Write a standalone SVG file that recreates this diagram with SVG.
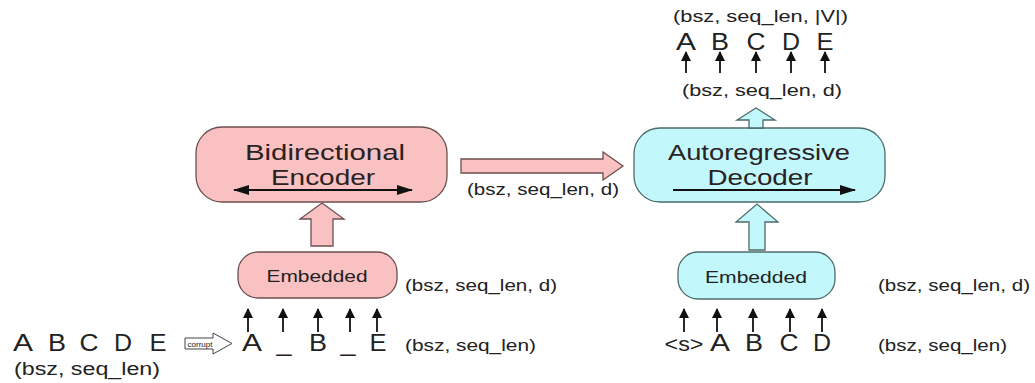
<svg xmlns="http://www.w3.org/2000/svg" width="1035" height="383" viewBox="0 0 1035 383">
<style>
text{font-family:"Liberation Sans",Arial,sans-serif;fill:#222}
.big{font-size:23px;text-anchor:middle}
.lbl{font-size:17px}
.title{font-size:22px;text-anchor:middle;fill:#2a2222}
.emb{font-size:16px;text-anchor:middle}
.pink{fill:#f9c1c1;stroke:#6b5050;stroke-width:1.3}
.cyan{fill:#c2f8fb;stroke:#4d6b6b;stroke-width:1.3}
.thin{stroke:#111;stroke-width:1.8;fill:none}
</style>
<defs>
<marker id="ah" markerWidth="10" markerHeight="11" refX="9" refY="5" orient="auto" markerUnits="userSpaceOnUse">
<path d="M0,0 L10,5 L0,10 z" fill="#111"/>
</marker>
<marker id="ah2" markerWidth="16" markerHeight="10" refX="15" refY="5" orient="auto-start-reverse" markerUnits="userSpaceOnUse">
<path d="M0,0 L16,5 L0,10 z" fill="#111"/>
</marker>
</defs>
<rect width="1035" height="383" fill="#fff"/>

<g id="encoder">
<rect class="pink" x="196" y="127" width="251" height="75" rx="26"/>
<text class="title" x="325" y="160" textLength="160" lengthAdjust="spacingAndGlyphs">Bidirectional</text>
<text class="title" x="323" y="185" textLength="104" lengthAdjust="spacingAndGlyphs">Encoder</text>
<line class="thin" x1="234" y1="190" x2="412" y2="190" marker-start="url(#ah2)" marker-end="url(#ah2)"/>
</g>

<g id="embedded-left">
<rect class="pink" x="238" y="252" width="159" height="46" rx="20"/>
<text class="emb" x="317" y="282" textLength="101" lengthAdjust="spacingAndGlyphs">Embedded</text>
</g>

<g id="decoder">
<rect class="cyan" x="634" y="128" width="251" height="74" rx="26"/>
<text class="title" x="759" y="160" textLength="182" lengthAdjust="spacingAndGlyphs">Autoregressive</text>
<text class="title" x="760" y="185" textLength="105" lengthAdjust="spacingAndGlyphs">Decoder</text>
<line class="thin" x1="673" y1="190" x2="855" y2="190" marker-end="url(#ah2)"/>
</g>

<g id="embedded-right">
<rect class="cyan" x="678" y="252" width="157" height="47" rx="20"/>
<text class="emb" x="756" y="283" textLength="102" lengthAdjust="spacingAndGlyphs">Embedded</text>
</g>

<g id="connectors">
<path class="pink" d="M311,246 L311,219 L300,219 L322,203 L344,219 L333,219 L333,246 Z"/>
<path class="pink" d="M461,159 L603,159 L603,152 L623,166 L603,180 L603,173 L461,173 Z"/>
<path class="cyan" d="M749,250 L749,222 L736,222 L757,204 L778,222 L765,222 L765,250 Z"/>
<path class="cyan" d="M749,128 L749,120 L737,120 L756,108 L775,120 L763,120 L763,128 Z"/>
<path d="M185,338 L213,338 L213,333 L232,343.5 L213,354 L213,349 L185,349 Z" fill="#fff" stroke="#444" stroke-width="1"/>
<g class="thin" marker-end="url(#ah)">
<line x1="248" y1="332" x2="248" y2="309"/>
<line x1="283" y1="332" x2="283" y2="309"/>
<line x1="318" y1="332" x2="318" y2="309"/>
<line x1="350" y1="332" x2="350" y2="309"/>
<line x1="377" y1="332" x2="377" y2="309"/>
<line x1="684" y1="332" x2="684" y2="309"/>
<line x1="717" y1="332" x2="717" y2="309"/>
<line x1="753" y1="332" x2="753" y2="309"/>
<line x1="790" y1="332" x2="790" y2="309"/>
<line x1="822" y1="332" x2="822" y2="309"/>
<line x1="686" y1="73" x2="686" y2="52"/>
<line x1="720" y1="73" x2="720" y2="52"/>
<line x1="756" y1="73" x2="756" y2="52"/>
<line x1="791" y1="73" x2="791" y2="52"/>
<line x1="825" y1="73" x2="825" y2="52"/>
</g>
</g>

<g id="labels">
<text x="200" y="347" style="font-size:8px;text-anchor:middle" textLength="25" lengthAdjust="spacingAndGlyphs">corrupt</text>
<text class="big" x="23" y="351" textLength="20" lengthAdjust="spacingAndGlyphs">A</text>
<text class="big" x="57" y="351" textLength="18" lengthAdjust="spacingAndGlyphs">B</text>
<text class="big" x="89" y="351" textLength="19" lengthAdjust="spacingAndGlyphs">C</text>
<text class="big" x="123" y="351" textLength="18" lengthAdjust="spacingAndGlyphs">D</text>
<text class="big" x="158" y="351" textLength="17" lengthAdjust="spacingAndGlyphs">E</text>
<text class="lbl" x="14" y="375" style="font-size:18px" textLength="146" lengthAdjust="spacingAndGlyphs">(bsz, seq_len)</text>

<text class="big" x="252" y="351" textLength="20" lengthAdjust="spacingAndGlyphs">A</text>
<text class="big" x="284" y="351" textLength="15" lengthAdjust="spacingAndGlyphs">_</text>
<text class="big" x="318" y="351" textLength="18" lengthAdjust="spacingAndGlyphs">B</text>
<text class="big" x="348" y="351" textLength="15" lengthAdjust="spacingAndGlyphs">_</text>
<text class="big" x="378" y="351" textLength="17" lengthAdjust="spacingAndGlyphs">E</text>
<text class="lbl" x="405" y="351" textLength="131" lengthAdjust="spacingAndGlyphs">(bsz, seq_len)</text>
<text class="lbl" x="405" y="291" textLength="152" lengthAdjust="spacingAndGlyphs">(bsz, seq_len, d)</text>

<text class="lbl" x="467" y="195" textLength="152" lengthAdjust="spacingAndGlyphs">(bsz, seq_len, d)</text>

<text class="big" x="684" y="351" style="font-size:21px" textLength="39" lengthAdjust="spacingAndGlyphs">&lt;s&gt;</text>
<text class="big" x="720" y="351" textLength="20" lengthAdjust="spacingAndGlyphs">A</text>
<text class="big" x="754" y="351" textLength="18" lengthAdjust="spacingAndGlyphs">B</text>
<text class="big" x="789" y="351" textLength="19" lengthAdjust="spacingAndGlyphs">C</text>
<text class="big" x="822" y="351" textLength="18" lengthAdjust="spacingAndGlyphs">D</text>
<text class="lbl" x="878" y="351" textLength="129" lengthAdjust="spacingAndGlyphs">(bsz, seq_len)</text>
<text class="lbl" x="878" y="291" textLength="152" lengthAdjust="spacingAndGlyphs">(bsz, seq_len, d)</text>

<text class="big" x="686" y="50" textLength="20" lengthAdjust="spacingAndGlyphs">A</text>
<text class="big" x="720" y="50" textLength="18" lengthAdjust="spacingAndGlyphs">B</text>
<text class="big" x="756" y="50" textLength="19" lengthAdjust="spacingAndGlyphs">C</text>
<text class="big" x="791" y="50" textLength="18" lengthAdjust="spacingAndGlyphs">D</text>
<text class="big" x="825" y="50" textLength="17" lengthAdjust="spacingAndGlyphs">E</text>
<text class="lbl" x="673" y="22" textLength="175" lengthAdjust="spacingAndGlyphs">(bsz, seq_len, |V|)</text>
<text class="lbl" x="682" y="96" textLength="160" lengthAdjust="spacingAndGlyphs">(bsz, seq_len, d)</text>
</g>
</svg>
